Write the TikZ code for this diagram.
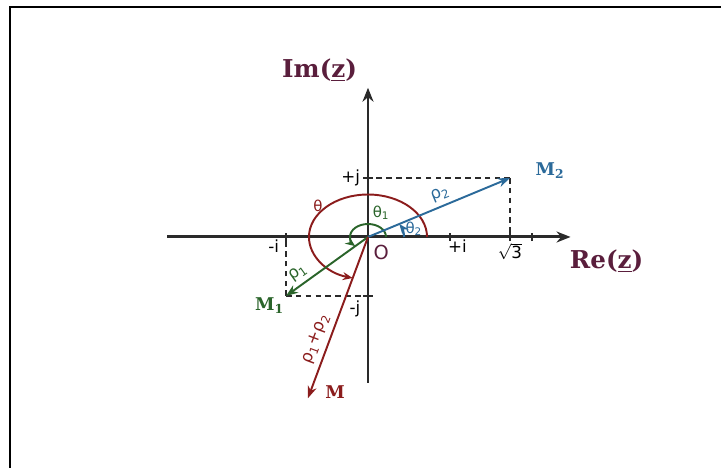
\documentclass[tikz,border=0pt]{standalone}
\usepackage{fontspec}
\setmainfont{DejaVu Sans}
\newfontfamily\headfont{DejaVu Serif}
\usetikzlibrary{arrows.meta,calc}
\definecolor{axisgray}{HTML}{2a2a2a}
\definecolor{plum}{HTML}{5a1e3c}
\definecolor{vecblue}{HTML}{2b6a9a}
\definecolor{vecgreen}{HTML}{2a642a}
\definecolor{vecred}{HTML}{8b1c1c}

\begin{document}
\begin{tikzpicture}[font=\small,
  axis/.style={draw=axisgray,line width=1.7pt,-{Stealth[length=2.8mm,width=2.2mm]}},
  vec/.style={line width=1.1pt,-{Stealth[length=2.4mm,width=1.8mm]}},
  guide/.style={draw=axisgray,line width=1.1pt,dash pattern=on 3.2pt off 2.4pt},
  tickmark/.style={draw=axisgray,line width=0.9pt},
  angarc/.style={line width=1.1pt,-{Stealth[length=2mm,width=1.6mm]}},
  tlab/.style={font=\fontsize{9.5}{10}\selectfont,inner sep=1pt},
  glab/.style={font=\fontsize{8.5}{9}\selectfont,inner sep=1pt},
  plabel/.style={font=\headfont\bfseries\fontsize{10}{12}\selectfont,inner sep=1pt},
  axlab/.style={font=\headfont\bfseries\fontsize{14}{16}\selectfont,text=plum}]
  \useasboundingbox (0,0) rectangle (14.42,9.36);
  % frame
  \draw[line width=1.3pt] (0.2,0) |- (14.42,9.22);
  \begin{scope}[shift={(7.36,4.62)},x=1.64cm,y=1.18cm]
  \coordinate (O) at (0,0);
  \coordinate (M1) at (-1,-1);
  \coordinate (M2) at ({sqrt(3)},1);
  \coordinate (M) at ({1-sqrt(3)},{-1-sqrt(3)});
  \coordinate (xl) at (-2.45,0);
  \coordinate (xr) at (2.47,0);
  \coordinate (yb) at (0,-2.47);
  \coordinate (yt) at (0,2.53);
  % axes and ticks
  \draw[axis] (xl) -- (xr);
  \draw[axis] (yb) -- (yt);
  \foreach \t in {-1,1,1.732,2} \draw[tickmark] (\t,-0.07) -- (\t,0.07);
  \foreach \t in {-1,1} \draw[tickmark] (-0.06,\t) -- (0.06,\t);
  % projections
  \draw[guide] (M2) -- (M2 -| O);
  \draw[guide] (M2) -- (M2 |- O);
  \draw[guide] (M1) -- (M1 -| O);
  \draw[guide] (M1) -- (M1 |- O);
  % angles
  \draw[angarc,vecred] (0.72,0) arc[start angle=0,end angle=255,radius=0.72];
  \draw[angarc,vecgreen] (0.22,0) arc[start angle=0,end angle=225,radius=0.22];
  \draw[angarc,vecblue] (0.44,0) arc[start angle=0,end angle=30,radius=0.44];
  % vectors
  \draw[vec,vecblue] (O) -- node[tlab,sloped,above=1.5pt,pos=0.54] (r2) {ρ\textsubscript{2}} (M2);
  \draw[vec,vecgreen] (O) -- node[tlab,sloped,above=1.5pt,pos=0.77] (r1) {ρ\textsubscript{1}} (M1);
  \draw[vec,vecred] (O) -- node[tlab,sloped,above=2pt,pos=0.66] (r12) {ρ\textsubscript{1}+ρ\textsubscript{2}} (M);
  % labels
  \node[glab,text=vecred] (th) at (-0.61,0.53) {θ};
  \node[glab,text=vecgreen] (th1) at (0.16,0.41) {θ\textsubscript{1}};
  \node[glab,text=vecblue] (th2) at (0.56,0.14) {θ\textsubscript{2}};
  \node[tlab,text=plum,font=\fontsize{11}{12}\selectfont] (o) at (0.16,-0.27) {O};
  \node[tlab] (mi) at (-1.15,-0.15) {-i};
  \node[tlab] (pi) at (1.09,-0.15) {+i};
  \node[tlab] (s3) at (1.73,-0.25) {$\sqrt{\mbox{3}}$};
  \node[tlab] (pj) at (-0.21,1.0) {+j};
  \node[tlab] (mj) at (-0.16,-1.22) {-j};
  \node[plabel,text=vecblue] (m2) at (2.22,1.12) {M\textsubscript{2}};
  \node[plabel,text=vecgreen] (m1) at (-1.2,-1.17) {M\textsubscript{1}};
  \node[plabel,text=vecred] (m) at (-0.4,-2.63) {M};
  \node[axlab] (im) at (-0.59,2.83) {Im(\underline{z})};
  \node[axlab] (re) at (2.91,-0.41) {Re(\underline{z})};
  \end{scope}
\end{tikzpicture}
\end{document}
